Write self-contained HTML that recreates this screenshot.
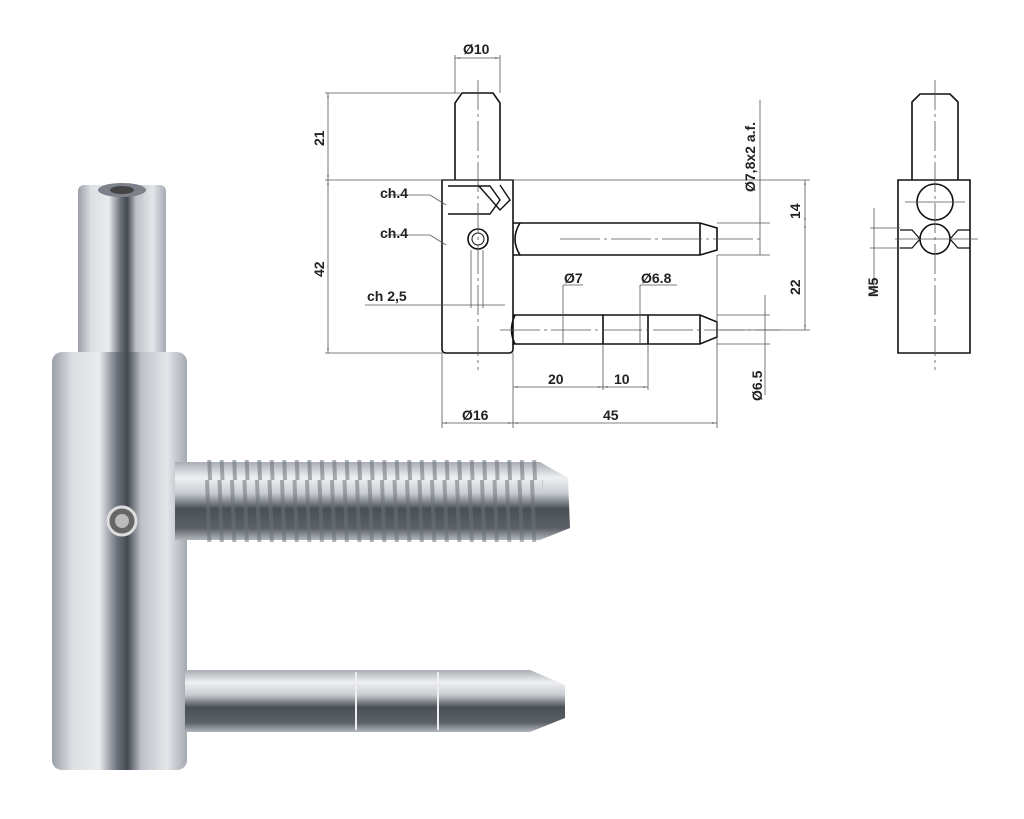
<!DOCTYPE html>
<html><head><meta charset="utf-8"><style>
html,body{margin:0;padding:0;background:#fff}
svg{display:block}
text{font-family:"Liberation Sans",sans-serif;font-weight:bold;font-size:14px;fill:#222}
</style></head><body>
<svg width="1024" height="819" viewBox="0 0 1024 819" xmlns="http://www.w3.org/2000/svg">
<defs>
<linearGradient id="cyl" x1="0" x2="1" y1="0" y2="0">
<stop offset="0" stop-color="#9a9fa8"/><stop offset="0.15" stop-color="#dcdfe3"/>
<stop offset="0.35" stop-color="#e9ebee"/><stop offset="0.48" stop-color="#6d737c"/>
<stop offset="0.56" stop-color="#454a51"/><stop offset="0.66" stop-color="#bdc1c8"/>
<stop offset="0.85" stop-color="#e4e6ea"/><stop offset="1" stop-color="#a4a9b1"/>
</linearGradient>
<linearGradient id="rod" x1="0" x2="0" y1="0" y2="1">
<stop offset="0" stop-color="#a9aeb5"/><stop offset="0.2" stop-color="#eef0f2"/>
<stop offset="0.4" stop-color="#c8ccd1"/><stop offset="0.6" stop-color="#4a4f56"/>
<stop offset="0.85" stop-color="#5c6168"/><stop offset="1" stop-color="#b3b7bd"/>
</linearGradient>
<pattern id="thr" width="12.5" height="80" patternUnits="userSpaceOnUse" x="203">
<path d="M2 0 L6 0 L9 80 L5 80Z" fill="#6b7078" opacity="0.55"/>
</pattern>
<marker id="a" viewBox="0 0 10 10" refX="10" refY="5" markerWidth="8" markerHeight="6" orient="auto-start-reverse">
<path d="M0 3 L10 5 L0 7Z" fill="#777"/></marker>
</defs>

<!-- PHOTO -->
<rect x="78" y="185" width="88" height="175" rx="6" fill="url(#cyl)"/>
<ellipse cx="122" cy="190" rx="24" ry="7" fill="#7c818a"/>
<ellipse cx="122" cy="190" rx="12" ry="4" fill="#444"/>
<rect x="52" y="352" width="135" height="418" rx="10" fill="url(#cyl)"/>
<path d="M175 462 L540 462 L568 478 L570 528 L540 540 L175 540Z" fill="url(#rod)"/>
<rect x="203" y="460" width="340" height="82" fill="url(#thr)"/>
<path d="M185 670 L530 670 L565 685 L565 718 L530 732 L185 732Z" fill="url(#rod)"/>
<line x1="356" y1="672" x2="356" y2="730" stroke="#eee" stroke-width="2"/>
<line x1="438" y1="672" x2="438" y2="730" stroke="#eee" stroke-width="2"/>
<circle cx="122" cy="521" r="14" fill="#666" stroke="#ddd" stroke-width="3"/>
<circle cx="122" cy="521" r="7" fill="#bbb"/>

<!-- DRAWING main -->
<g fill="none" stroke="#111" stroke-width="1.6">
<path d="M455 180 L455 103 L462 93 L493 93 L500 103 L500 180"/>
<path d="M444 180 L513 180 L513 349 Q513 353 509 353 L446 353 Q442 353 442 349 L442 180Z"/>
<path d="M513 223 L520 223 L700 223 L717 228 L717 250 L700 255 L520 255 L513 255"/>
<path d="M700 223 L700 255 M520 223 Q510 239 520 255"/>
<path d="M513 315 L700 315 L717 322 L717 337 L700 344 L513 344"/>
<path d="M603 315 L603 344 M648 315 L648 344 M700 315 L700 344 M515 315 Q508 330 515 344"/>
<path d="M448 186 L490 186 L500 200 L490 214 L448 214" stroke-width="1.4"/>
<path d="M478 185 L500 210 L510 200 L500 185" stroke-width="1.4"/>
<circle cx="478" cy="239" r="10"/><circle cx="478" cy="239" r="6" stroke-width="1"/>
</g>
<g fill="none" stroke="#555" stroke-width="0.8">
<line x1="325" y1="93" x2="460" y2="93"/><line x1="325" y1="180" x2="760" y2="180"/>
<line x1="325" y1="353" x2="442" y2="353"/>
<line x1="328" y1="93" x2="328" y2="180" marker-start="url(#a)" marker-end="url(#a)"/>
<line x1="328" y1="180" x2="328" y2="353" marker-start="url(#a)" marker-end="url(#a)"/>
<line x1="455" y1="55" x2="455" y2="93"/><line x1="500" y1="55" x2="500" y2="93"/>
<line x1="455" y1="58" x2="500" y2="58" marker-start="url(#a)" marker-end="url(#a)"/>
<line x1="478" y1="80" x2="478" y2="370" stroke-dasharray="30,4,3,4"/>
<line x1="442" y1="353" x2="442" y2="428"/><line x1="513" y1="353" x2="513" y2="428"/>
<line x1="717" y1="255" x2="717" y2="428"/>
<line x1="442" y1="423" x2="513" y2="423" marker-start="url(#a)" marker-end="url(#a)"/>
<line x1="513" y1="423" x2="717" y2="423" marker-start="url(#a)" marker-end="url(#a)"/>
<line x1="603" y1="344" x2="603" y2="390"/><line x1="648" y1="344" x2="648" y2="390"/>
<line x1="513" y1="387" x2="603" y2="387" marker-start="url(#a)" marker-end="url(#a)"/>
<line x1="603" y1="387" x2="648" y2="387" marker-start="url(#a)" marker-end="url(#a)"/>
<line x1="365" y1="305" x2="505" y2="305"/><line x1="471" y1="250" x2="471" y2="308"/><line x1="483" y1="250" x2="483" y2="308"/>
<line x1="563" y1="285" x2="563" y2="345"/><line x1="563" y1="285" x2="583" y2="285"/>
<line x1="640" y1="285" x2="640" y2="345"/><line x1="640" y1="285" x2="677" y2="285"/>
<line x1="560" y1="239" x2="760" y2="239" stroke-dasharray="40,4,3,4"/>
<line x1="500" y1="330" x2="780" y2="330" stroke-dasharray="40,4,3,4"/>
<line x1="760" y1="100" x2="760" y2="255"/><line x1="717" y1="223" x2="770" y2="223"/><line x1="717" y1="255" x2="770" y2="255"/>
<line x1="805" y1="180" x2="805" y2="223" marker-start="url(#a)" marker-end="url(#a)"/>
<line x1="805" y1="223" x2="805" y2="330" marker-start="url(#a)" marker-end="url(#a)"/>
<line x1="760" y1="180" x2="810" y2="180"/>
<line x1="720" y1="330" x2="810" y2="330"/>
<line x1="717" y1="315" x2="770" y2="315"/><line x1="717" y1="344" x2="770" y2="344"/>
<line x1="765" y1="295" x2="765" y2="395"/>
<path d="M385 195 L430 195 L446 205 M385 235 L430 235 L446 245"/>
</g>
<text x="463" y="54">Ø10</text>
<text x="380" y="198">ch.4</text>
<text x="380" y="238">ch.4</text>
<text x="367" y="301">ch 2,5</text>
<text x="564" y="283">Ø7</text>
<text x="641" y="283">Ø6.8</text>
<text x="548" y="384">20</text>
<text x="614" y="384">10</text>
<text x="462" y="420">Ø16</text>
<text x="603" y="420">45</text>
<text transform="translate(324,146) rotate(-90)">21</text>
<text transform="translate(324,277) rotate(-90)">42</text>
<text transform="translate(755,192) rotate(-90)">Ø7,8x2 a.f.</text>
<text transform="translate(800,219) rotate(-90)">14</text>
<text transform="translate(800,295) rotate(-90)">22</text>
<text transform="translate(762,401) rotate(-90)">Ø6.5</text>

<!-- side view -->
<g fill="none" stroke="#111" stroke-width="1.6">
<path d="M912 180 L912 102 L920 94 L950 94 L958 102 L958 180"/>
<path d="M898 180 L970 180 L970 353 L898 353Z"/>
<circle cx="935" cy="202" r="18"/><circle cx="935" cy="239" r="15"/>
<path d="M900 230 L912 230 L920 239 L912 248 L900 248 M970 230 L958 230 L950 239 L958 248 L970 248" stroke-width="1.2"/>
</g>
<g stroke="#555" stroke-width="0.8">
<line x1="935" y1="80" x2="935" y2="370" stroke-dasharray="30,4,3,4"/>
<line x1="870" y1="228" x2="900" y2="228"/><line x1="870" y1="248" x2="900" y2="248"/>
<line x1="874" y1="208" x2="874" y2="295"/>
<line x1="905" y1="202" x2="965" y2="202"/><line x1="895" y1="239" x2="978" y2="239"/>
</g>
<text transform="translate(878,297) rotate(-90)">M5</text>
</svg>
</body></html>
